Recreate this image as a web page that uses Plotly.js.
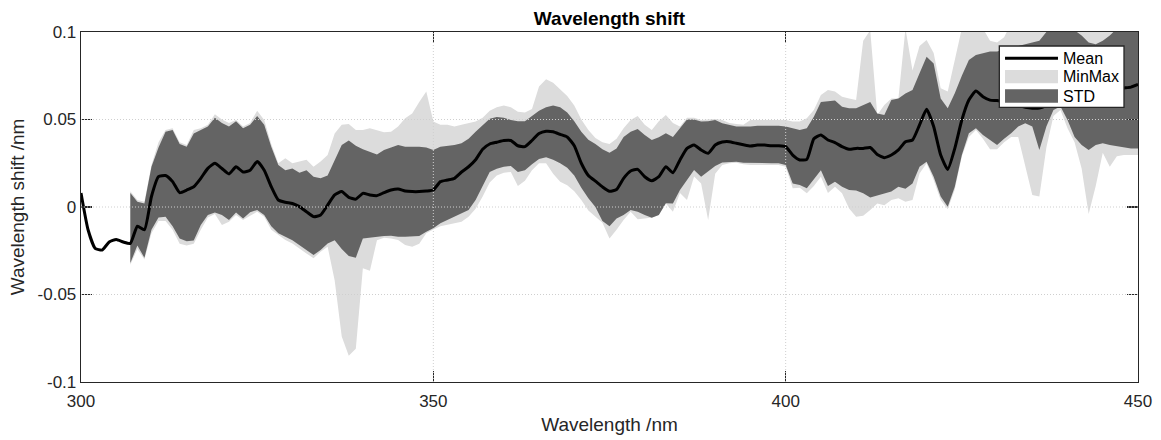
<!DOCTYPE html>
<html><head><meta charset="utf-8">
<script src="https://cdn.plot.ly/plotly-3.0.1.min.js"></script>
<style>html,body{margin:0;padding:0;background:#fff;}#chart{width:1161px;height:440px;}</style>
</head><body><div id="chart"></div>
<script>
// Wavelength grid (nm) for the mean curve
const wavelength = [300,301,302,303,304,305,306,307,308,309,310,311,312,313,314,315,316,317,318,319,
320,321,322,323,324,325,326,327,328,329,330,331,332,333,334,335,336,337,338,339,
340,341,342,343,344,345,346,347,348,349,350,351,352,353,354,355,356,357,358,359,
360,361,362,363,364,365,366,367,368,369,370,371,372,373,374,375,376,377,378,379,
380,381,382,383,384,385,386,387,388,389,390,391,392,393,394,395,396,397,398,399,
400,401,402,403,404,405,406,407,408,409,410,411,412,413,414,415,416,417,418,419,
420,421,422,423,424,425,426,427,428,429,430,431,432,433,434,435,436,437,438,439,
440,441,442,443,444,445,446,447,448,449,450];

const meanShift = [0.008,-0.013,-0.0236,-0.0246,-0.020,-0.0185,-0.020,-0.0208,-0.011,-0.013,
0.006,0.0173,0.018,0.0145,0.0082,0.0097,0.0116,0.0164,0.0221,0.025,
0.022,0.0189,0.023,0.020,0.021,0.026,0.021,0.0116,0.004,0.0027,
0.002,0.0002,-0.0027,-0.0055,-0.0046,0.0011,0.0069,0.0088,0.0055,0.0045,
0.0078,0.0069,0.0065,0.0082,0.0097,0.0103,0.0091,0.0088,0.0088,0.0091,
0.0097,0.0145,0.0154,0.0164,0.020,0.023,0.027,0.033,0.036,0.037,
0.038,0.038,0.035,0.0345,0.038,0.042,0.0433,0.043,0.0415,0.040,
0.035,0.025,0.018,0.0148,0.0115,0.009,0.010,0.0164,0.0206,0.0215,
0.0173,0.015,0.0173,0.023,0.0196,0.0269,0.0335,0.0354,0.0326,0.0307,
0.0354,0.0371,0.0373,0.0364,0.0356,0.0349,0.0354,0.0354,0.035,0.035,
0.0345,0.0297,0.0269,0.0272,0.039,0.0411,0.0383,0.0368,0.0345,0.033,
0.0335,0.0335,0.034,0.030,0.0282,0.0297,0.0326,0.0373,0.0383,0.0469,
0.0558,0.046,0.0297,0.0215,0.0335,0.0497,0.0611,0.0663,0.063,0.0611,
0.0608,0.060,0.059,0.058,0.057,0.0565,0.0566,0.058,0.060,0.062,
0.063,0.064,0.065,0.066,0.0665,0.067,0.067,0.0675,0.068,0.0685,0.070];

// Bands start at 307 nm
const bandStartIndex = 7;
const stdUpper = [0.008,0.003,0.002,0.023,0.034,0.043,0.044,0.036,0.0345,0.042,
0.044,0.046,0.051,0.048,0.046,0.049,0.045,0.047,0.052,0.047,
0.0345,0.024,0.021,0.022,0.0196,0.021,0.0173,0.0164,0.018,0.027,
0.0354,0.038,0.035,0.033,0.0316,0.030,0.0326,0.034,0.0354,0.0345,
0.0345,0.0345,0.034,0.0326,0.0345,0.035,0.0354,0.0364,0.039,0.043,
0.047,0.0505,0.0515,0.051,0.0497,0.049,0.049,0.052,0.055,0.057,
0.058,0.057,0.054,0.049,0.043,0.0385,0.036,0.033,0.031,0.0335,
0.040,0.043,0.0446,0.0411,0.0383,0.0398,0.0421,0.040,0.045,0.050,
0.050,0.0488,0.049,0.0497,0.0478,0.0469,0.046,0.046,0.046,0.0465,
0.0465,0.0465,0.0465,0.046,0.045,0.044,0.045,0.0516,0.060,0.0602,
0.0608,0.0573,0.0564,0.0564,0.0583,0.060,0.0535,0.0526,0.0611,0.062,
0.0649,0.0669,0.0764,0.0859,0.082,0.062,0.0564,0.065,0.075,0.084,
0.0869,0.0878,0.0888,0.0888,0.090,0.091,0.092,0.093,0.094,0.095,
0.1,0.102,0.102,0.102,0.101,0.098,0.094,0.093,0.095,0.098,
0.102,0.105,0.108,0.11];

const stdLower = [-0.032,-0.022,-0.029,-0.013,-0.006,-0.0055,-0.011,-0.018,-0.0196,-0.0192,
-0.0103,-0.0046,-0.0032,-0.0046,-0.0074,-0.0032,-0.0065,-0.003,-0.0017,-0.0046,
-0.011,-0.015,-0.017,-0.019,-0.0217,-0.0246,-0.0274,-0.0246,-0.0208,-0.019,
-0.024,-0.028,-0.029,-0.018,-0.0173,-0.017,-0.0166,-0.0164,-0.017,-0.017,
-0.017,-0.0166,-0.0141,-0.0122,-0.0093,-0.0074,-0.0055,-0.0036,-0.0017,0.004,
0.012,0.020,0.0218,0.023,0.0235,0.020,0.021,0.0245,0.0275,0.0285,
0.027,0.025,0.0225,0.018,0.011,0.005,0.0,-0.008,-0.011,-0.0065,
-0.0046,-0.0017,-0.0027,-0.0046,-0.0061,-0.0046,0.0021,0.002,0.0097,0.0154,
0.0211,0.0173,0.0202,0.0234,0.0255,0.0259,0.0259,0.0253,0.025,0.0252,
0.025,0.025,0.025,0.024,0.0135,0.0126,0.0107,0.016,0.021,0.012,
0.0145,0.0116,0.0097,0.0095,0.0078,0.0055,0.0069,0.0078,0.0088,0.0116,
0.0105,0.0135,0.023,0.0259,0.0173,0.006,0.0002,0.0116,0.0297,0.0421,
0.045,0.0411,0.0383,0.0354,0.039,0.0421,0.046,0.0478,0.046,0.0326,
0.046,0.0554,0.0575,0.0497,0.040,0.0354,0.0326,0.0354,0.0364,0.0354,
0.0345,0.034,0.0335,0.0335];

const maxShift = [0.009,0.004,0.003,0.024,0.037,0.044,0.045,0.037,0.0355,0.044,
0.045,0.047,0.053,0.050,0.048,0.0497,0.046,0.048,0.055,0.0497,
0.036,0.025,0.0278,0.025,0.026,0.027,0.023,0.026,0.0297,0.042,
0.047,0.0474,0.044,0.044,0.045,0.044,0.0427,0.043,0.046,0.0507,
0.0535,0.060,0.066,0.0488,0.047,0.047,0.046,0.047,0.048,0.0488,
0.051,0.055,0.057,0.058,0.057,0.0545,0.054,0.056,0.0688,0.073,
0.071,0.067,0.0635,0.058,0.050,0.044,0.0395,0.037,0.036,0.039,
0.045,0.0497,0.052,0.047,0.044,0.049,0.0526,0.048,0.046,0.051,
0.051,0.0497,0.050,0.0503,0.0497,0.048,0.0475,0.047,0.0497,0.0497,
0.050,0.050,0.050,0.0497,0.0488,0.0488,0.0507,0.0554,0.064,0.0669,
0.066,0.063,0.062,0.0611,0.095,0.101,0.0526,0.0583,0.062,0.062,
0.102,0.078,0.092,0.0954,0.088,0.0678,0.066,0.085,0.102,0.105,
0.105,0.102,0.095,0.094,0.097,0.105,0.105,0.105,0.105,0.105,
0.105,0.105,0.105,0.105,0.105,0.105,0.105,0.105,0.105,0.105,
0.105,0.105,0.105,0.105];

const minShift = [-0.033,-0.024,-0.030,-0.015,-0.008,-0.008,-0.013,-0.021,-0.022,-0.021,
-0.013,-0.006,-0.004,-0.0103,-0.0084,-0.0046,-0.0074,-0.005,-0.0027,-0.0055,
-0.013,-0.016,-0.0189,-0.0208,-0.0236,-0.0265,-0.0293,-0.0255,-0.0227,-0.042,
-0.074,-0.085,-0.081,-0.035,-0.0364,-0.019,-0.0175,-0.018,-0.0189,-0.0217,
-0.0227,-0.021,-0.015,-0.0128,-0.011,-0.010,-0.0093,-0.0084,-0.0055,-0.001,
0.006,0.014,0.018,0.0196,0.020,0.012,0.015,0.021,0.025,0.025,
0.019,0.0145,0.0125,0.009,0.004,-0.002,-0.0055,-0.009,-0.018,-0.013,
-0.0074,-0.0027,-0.007,-0.0065,-0.006,-0.0046,0.002,-0.0027,0.008,0.004,
0.0175,0.0135,-0.0074,0.019,0.024,0.025,0.0253,0.0245,0.024,0.024,
0.024,0.024,0.024,0.023,0.0107,0.011,0.0078,0.012,0.0173,0.008,
0.0116,0.0078,-0.0008,-0.0055,-0.005,-0.0017,0.002,0.001,0.004,0.005,
0.003,0.004,0.0192,0.025,0.0154,0.004,-0.0013,0.010,0.0288,0.040,
0.044,0.039,0.033,0.033,0.037,0.040,0.040,0.023,0.0069,0.006,
0.034,0.052,0.0554,0.045,0.037,0.022,-0.004,0.012,0.031,0.023,
0.029,0.0297,0.0297,0.0297];

const xTickVals = [300, 350, 400, 450];
const xTickText = ['300', '350', '400', '450'];
const yTickVals = [-0.1, -0.05, 0, 0.05, 0.1];
const yTickText = ['-0.1', '-0.05', '0', '0.05', '0.1'];
const xGridVals = [350, 400];
const yGridVals = [-0.05, 0, 0.05];
const seriesNames = ['Mean', 'MinMax', 'STD'];

const bandWavelength = wavelength.slice(bandStartIndex);
function polygonX(xs) { return xs.concat(xs.slice().reverse()); }
function polygonY(hi, lo) { return hi.concat(lo.slice().reverse()); }

const FONT = 'Liberation Sans, Arial, Helvetica, sans-serif';
const AX = '#262626';
const COLORS = {Mean: '#000000', MinMax: '#dcdcdc', STD: '#646464'};

const traces = [
  {
    x: polygonX(bandWavelength), y: polygonY(maxShift, minShift),
    type: 'scatter', mode: 'lines', fill: 'toself', fillcolor: COLORS.MinMax,
    line: {width: 0, color: COLORS.MinMax}, name: seriesNames[1], hoverinfo: 'skip'
  },
  {
    x: polygonX(bandWavelength), y: polygonY(stdUpper, stdLower),
    type: 'scatter', mode: 'lines', fill: 'toself', fillcolor: COLORS.STD,
    line: {width: 0, color: COLORS.STD}, name: seriesNames[2], hoverinfo: 'skip'
  },
  {
    x: wavelength, y: meanShift, type: 'scatter', mode: 'lines',
    line: {color: COLORS.Mean, width: 3, shape: 'spline', smoothing: 0.5},
    name: seriesNames[0]
  }
];

const gridLine = {color: '#cfcfcf', width: 1, dash: '1px,2px'};
const shapes = [];
xGridVals.forEach(v => shapes.push({type: 'line', xref: 'x', yref: 'paper', x0: v, x1: v, y0: 0, y1: 1,
  line: gridLine, layer: 'above'}));
yGridVals.forEach(v => shapes.push({type: 'line', xref: 'paper', yref: 'y', x0: 0, x1: 1, y0: v, y1: v,
  line: gridLine, layer: 'above'}));

// Legend box drawn in MATLAB style (paper coordinates)
const LEG = {x0: 0.8688, x1: 0.98675, y0: 0.7849, y1: 0.96, symX0: 0.8742, symX1: 0.9243, textX: 0.9272,
  rowY: [0.9249, 0.8724, 0.8171], rowH: 0.038};
shapes.push({type: 'rect', xref: 'paper', yref: 'paper', x0: LEG.x0, x1: LEG.x1, y0: LEG.y0, y1: LEG.y1,
  fillcolor: '#ffffff', line: {color: AX, width: 1.3}, layer: 'above'});
const annotations = [];
seriesNames.forEach((name, i) => {
  const yc = LEG.rowY[i];
  if (name === 'Mean') {
    shapes.push({type: 'line', xref: 'paper', yref: 'paper', x0: LEG.symX0, x1: LEG.symX1, y0: yc, y1: yc,
      line: {color: COLORS.Mean, width: 3}, layer: 'above'});
  } else {
    shapes.push({type: 'rect', xref: 'paper', yref: 'paper', x0: LEG.symX0, x1: LEG.symX1,
      y0: yc - LEG.rowH / 2, y1: yc + LEG.rowH / 2, fillcolor: COLORS[name], line: {width: 0}, layer: 'above'});
  }
  annotations.push({xref: 'paper', yref: 'paper', x: LEG.textX, y: yc, xanchor: 'left', yanchor: 'middle',
    text: name, showarrow: false, font: {family: FONT, size: 16, color: '#000'}});
});

const axisCommon = {
  ticks: 'inside', ticklen: 11, tickwidth: 1.3, tickcolor: AX,
  showline: true, linecolor: AX, linewidth: 1.3, mirror: 'ticks',
  showgrid: false, zeroline: false,
  tickfont: {family: FONT, size: 17, color: AX}
};

const layout = {
  width: 1161, height: 440,
  margin: {l: 81, r: 23, t: 32, b: 58},
  paper_bgcolor: '#ffffff', plot_bgcolor: '#ffffff',
  font: {family: FONT, color: AX},
  title: {text: '<b>Wavelength shift</b>', font: {family: FONT, size: 19, color: '#000'},
    x: 0.5, xref: 'paper', xanchor: 'center', y: 1 - 18.5/440, yref: 'container', yanchor: 'middle'},
  xaxis: Object.assign({}, axisCommon, {
    range: [300, 450], tickmode: 'array', tickvals: xTickVals, ticktext: xTickText,
    ticklabelstandoff: 3,
    title: {text: 'Wavelength /nm', font: {family: FONT, size: 19, color: AX}, standoff: 8}
  }),
  yaxis: Object.assign({}, axisCommon, {
    range: [-0.1, 0.1], tickmode: 'array', tickvals: yTickVals, ticktext: yTickText,
    title: {text: 'Wavelength shift /nm', font: {family: FONT, size: 19, color: AX}, standoff: 8}
  }),
  shapes: shapes,
  annotations: annotations,
  showlegend: false
};

Plotly.newPlot('chart', traces, layout, {staticPlot: true, displayModeBar: false});
</script>
</body></html>
